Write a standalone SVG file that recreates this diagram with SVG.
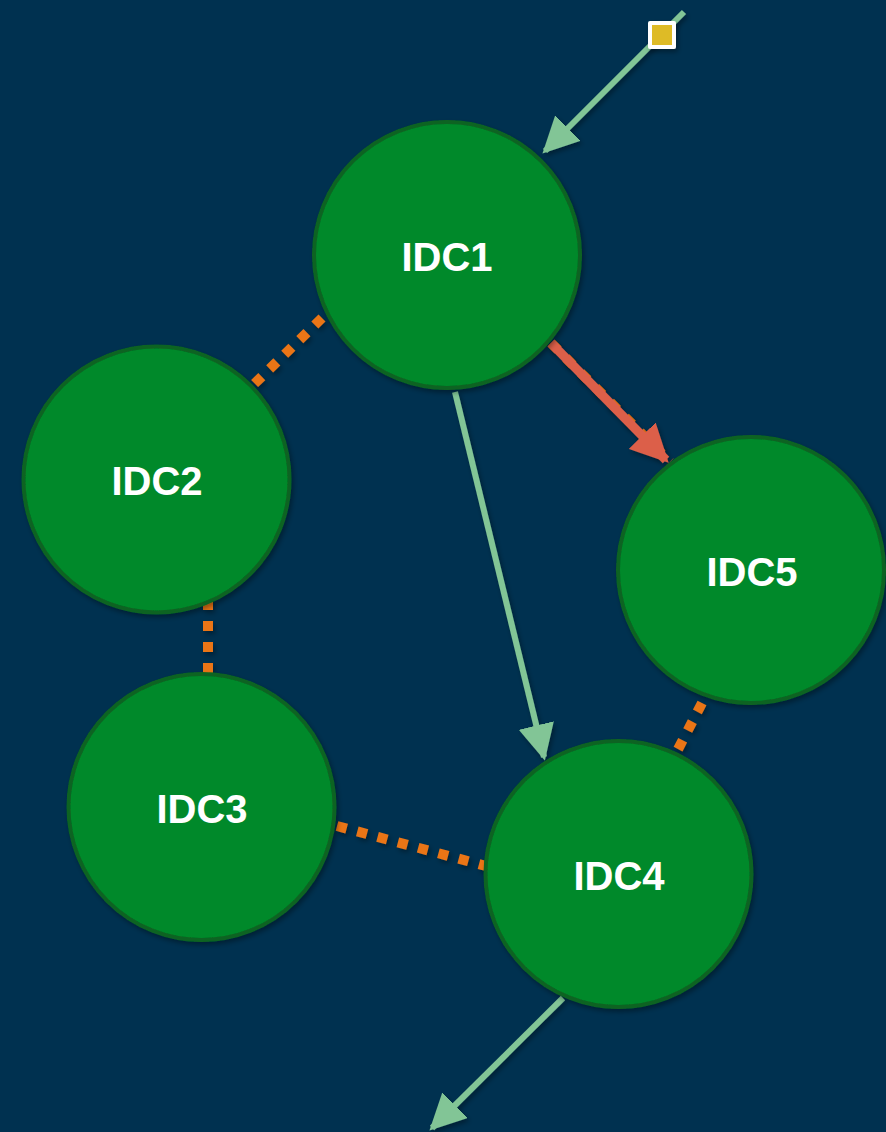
<svg xmlns="http://www.w3.org/2000/svg" width="886" height="1132" viewBox="0 0 886 1132">
  <style>
    .node circle { fill: #03892b; stroke: #0a6421; stroke-width: 4; filter: url(#shadow); }
    .node text { font-family: "Liberation Sans", Arial, sans-serif; font-weight: bold; font-size: 40px; fill: #ffffff; text-anchor: middle; dominant-baseline: central; }
    .link { fill: none; stroke: #ea7417; stroke-width: 10; stroke-dasharray: 10 11; filter: url(#shadow); }
    .flow { fill: none; stroke: #82c596; stroke-width: 6; filter: url(#shadow); }
    .alert { fill: none; stroke: #dc5f48; stroke-width: 9; filter: url(#shadow); }
  </style>
  <defs>
    <filter id="shadow" filterUnits="userSpaceOnUse" x="0" y="0" width="886" height="1132">
      <feDropShadow dx="2" dy="3" stdDeviation="2.5" flood-color="#000000" flood-opacity="0.35"/>
    </filter>
    <marker id="arrowFlow" viewBox="0 0 10 10" refX="9" refY="5" markerWidth="6" markerHeight="6" markerUnits="strokeWidth" orient="auto">
      <path d="M0,0 L10,5 L0,10 Z" fill="#82c596"/>
    </marker>
    <marker id="arrowAlert" viewBox="0 0 10 10" refX="9" refY="5" markerWidth="4.2" markerHeight="4.2" markerUnits="strokeWidth" orient="auto">
      <path d="M0,0 L10,5 L0,10 Z" fill="#dc5f48"/>
    </marker>
  </defs>

  <rect width="886" height="1132" fill="#003150"/>

  <g id="connectors">
    <!-- peer links between data centres -->
    <line class="link" x1="322" y1="318" x2="250" y2="388"/>
    <line class="link" x1="208" y1="600" x2="208" y2="676"/>
    <line class="link" x1="337" y1="826" x2="486" y2="866"/>
    <line class="link" x1="702" y1="703" x2="674" y2="757"/>
    <line class="link" x1="551" y1="343" x2="670" y2="462"/>
    <!-- traffic flows -->
    <line class="flow" x1="684" y1="12" x2="545" y2="151" marker-end="url(#arrowFlow)"/>
    <line class="flow" x1="455" y1="392" x2="544" y2="757" marker-end="url(#arrowFlow)"/>
    <line class="flow" x1="563" y1="998" x2="432" y2="1128" marker-end="url(#arrowFlow)"/>
    <line class="alert" x1="551" y1="343" x2="666" y2="460" marker-end="url(#arrowAlert)"/>
  </g>

  <g id="IDC1" class="node">
    <circle cx="447" cy="255" r="133"/>
    <text x="447" y="257">IDC1</text>
  </g>
  <g id="IDC2" class="node">
    <circle cx="156.5" cy="479.5" r="133"/>
    <text x="157" y="481">IDC2</text>
  </g>
  <g id="IDC3" class="node">
    <circle cx="201.5" cy="807" r="133"/>
    <text x="202" y="809">IDC3</text>
  </g>
  <g id="IDC4" class="node">
    <circle cx="618.5" cy="874" r="133"/>
    <text x="619" y="876">IDC4</text>
  </g>
  <g id="IDC5" class="node">
    <circle cx="751" cy="570" r="133"/>
    <text x="752" y="572">IDC5</text>
  </g>

  <g id="entry">
    <rect x="648" y="21" width="28" height="28" rx="2" fill="#ffffff" filter="url(#shadow)"/>
    <rect x="652" y="25" width="20" height="20" fill="#debb26"/>
  </g>
</svg>
